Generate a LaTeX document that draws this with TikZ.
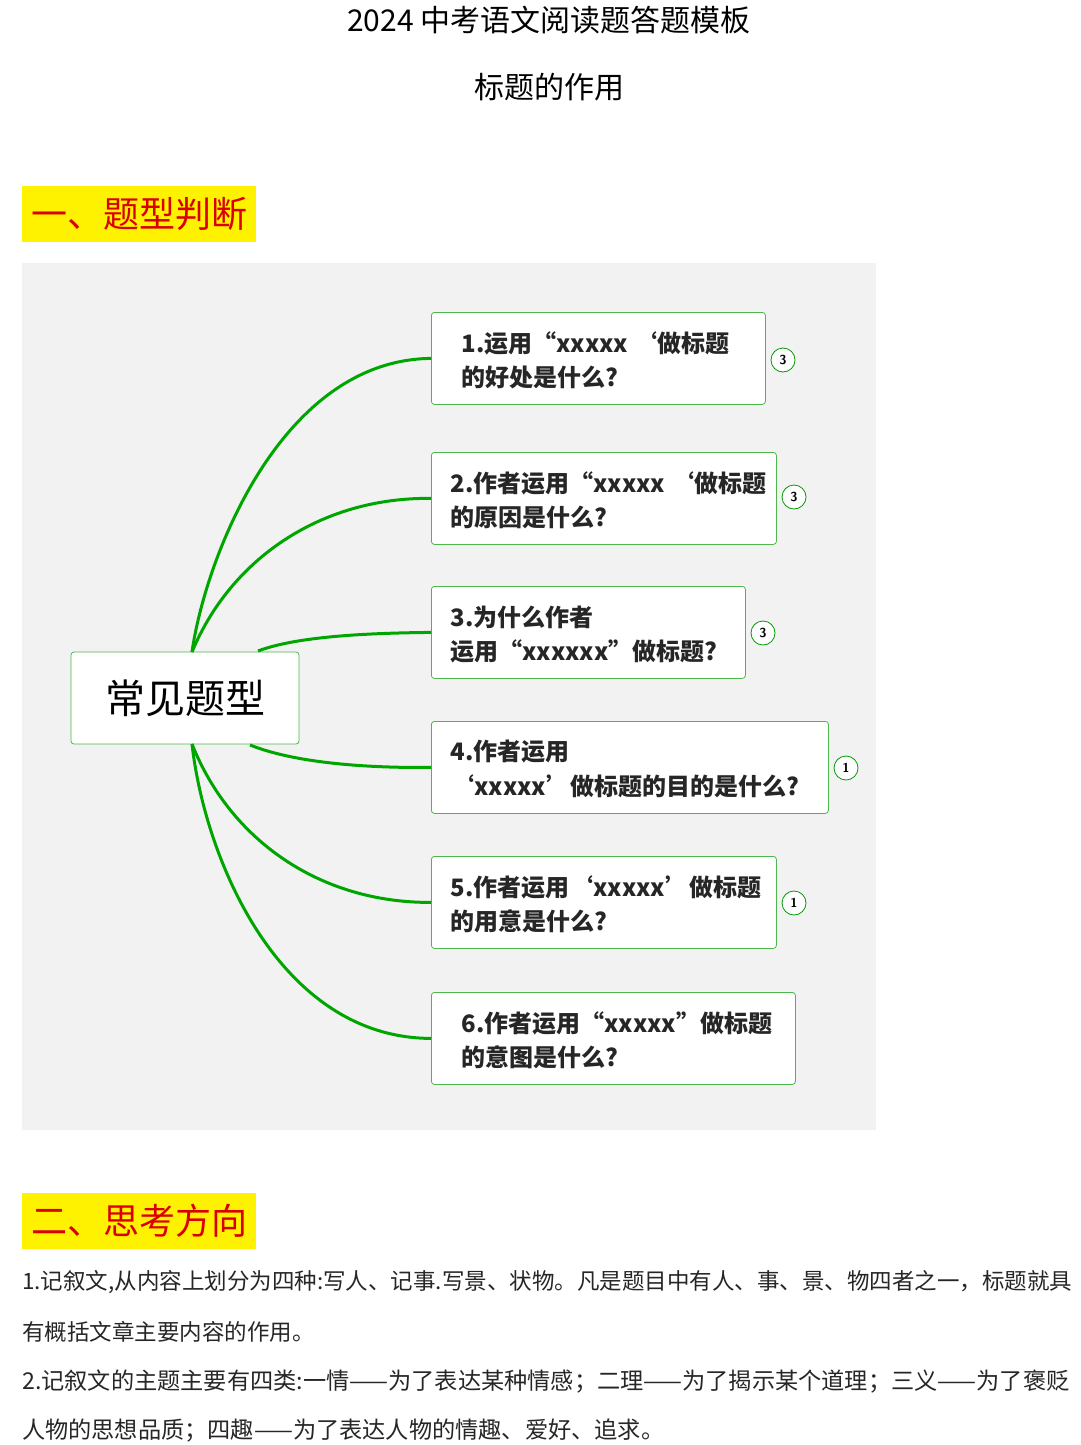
\documentclass[tikz,border=0pt]{standalone}
\usepackage{fontspec}
\newfontfamily\cjk{Noto Sans CJK SC}
\begin{document}
\begin{tikzpicture}[x=1pt,y=-1pt,
  qbox/.style={draw=green!60!black!70,line width=0.8pt,rounded corners=3pt,fill=white,anchor=north west,inner sep=0pt},
  qtext/.style={anchor=west,font=\cjk\bfseries\fontsize{24}{26}\selectfont,text=black!85,align=left},
  badge/.style={circle,draw=green!60!black,line width=0.8pt,fill=white,minimum size=24pt,inner sep=0pt,font=\sffamily\bfseries\fontsize{13}{13}\selectfont},
  link/.style={draw=green!65!black,line width=3pt},
  hdr/.style={fill=yellow,text=red!85!black,font=\cjk\fontsize{36}{40}\selectfont,anchor=north west,minimum width=234pt,minimum height=56pt,inner sep=0pt}]
\useasboundingbox (0,0) rectangle (1080,1445);
\node[font=\cjk\fontsize{30}{34}\selectfont] (t1) at (549,20) {2024 中考语文阅读题答题模板};
\node[font=\cjk\fontsize{30}{34}\selectfont] (t2) at (549,87) {标题的作用};
\node[hdr] (h1) at (22,186) {一、题型判断};
\fill[black!5] (22,263) rectangle (876,1130);
\node[draw=green!60!black!70,line width=0.8pt,rounded corners=3pt,fill=white,minimum width=228pt,minimum height=92pt,font=\cjk\fontsize{40}{42}\selectfont] (c) at (185,698) {常见题型};
\coordinate (ct) at (192,652);
\coordinate (cb) at (192,744);
\foreach \n/\x/\y/\w/\tx/\a/\b in {
 1/431/312/334/458/{1.运用“xxxxx ‘做标题}/{的好处是什么?},
 2/431/452/345/447/{2.作者运用“xxxxx ‘做标题}/{的原因是什么?},
 3/431/586/314/447/{3.为什么作者}/{运用“xxxxxx”做标题?},
 4/431/721/397/447/{4.作者运用}/{‘xxxxx’做标题的目的是什么?},
 5/431/856/345/447/{5.作者运用‘xxxxx’做标题}/{的用意是什么?},
 6/431/992/364/458/{6.作者运用“xxxxx”做标题}/{的意图是什么?}}{
  \node[qbox,minimum width=\w pt,minimum height=92pt] (b\n) at (\x,\y) {};
  \node[qtext] (l\n) at (\tx,\y+31) {\a};
  \node[qtext] (m\n) at (\tx,\y+65) {\b};
}
\node[badge] (g1) at (783,360) {3};
\node[badge] (g2) at (794,497) {3};
\node[badge] (g3) at (763,633) {3};
\node[badge] (g4) at (846,768) {1};
\node[badge] (g5) at (794,903) {1};
\draw[link] (ct) .. controls (205,560) and (280,360) .. (b1.west);
\draw[link] (ct) .. controls (230,560) and (320,497) .. (b2.west);
\draw[link] (258,651) .. controls (300,635) and (380,633) .. (b3.west);
\draw[link] (250,745) .. controls (300,765) and (380,768) .. (b4.west);
\draw[link] (cb) .. controls (230,840) and (320,903) .. (b5.west);
\draw[link] (cb) .. controls (205,860) and (280,1038) .. (b6.west);
\node[hdr] (h2) at (22,1193) {二、思考方向};
\begin{scope}[every node/.style={anchor=west,text=black!85,inner sep=0pt}]
\node[font=\cjk\fontsize{22.5}{24}\selectfont] (p1) at (22,1282) {1.记叙文,从内容上划分为四种:写人、记事.写景、状物。凡是题目中有人、事、景、物四者之一，标题就具};
\node[font=\cjk\fontsize{22.5}{24}\selectfont] (p2) at (22,1332) {有概括文章主要内容的作用。};
\node[font=\cjk\fontsize{23.2}{24}\selectfont] (p3) at (22,1382) {2.记叙文的主题主要有四类:一情——为了表达某种情感；二理——为了揭示某个道理；三义——为了褒贬};
\node[font=\cjk\fontsize{23.2}{24}\selectfont] (p4) at (22,1431) {人物的思想品质；四趣——为了表达人物的情趣、爱好、追求。};
\end{scope}
\end{tikzpicture}
\end{document}
